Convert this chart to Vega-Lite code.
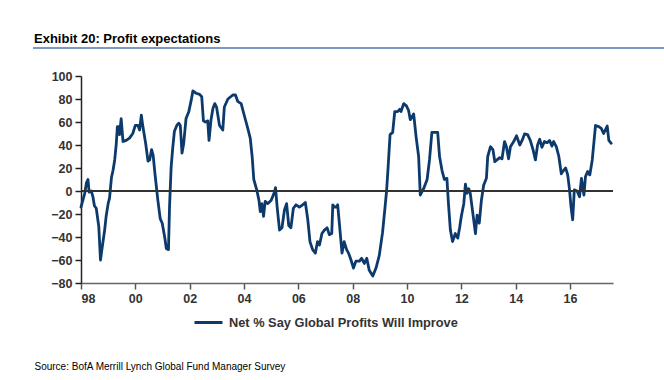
{
  "$schema": "https://vega.github.io/schema/vega-lite/v6.json",
  "width": 532,
  "height": 207,
  "autosize": {"type": "none"},
  "padding": {"left": 81, "top": 76, "right": 51, "bottom": 97},
  "background": "white",
  "config": {"view": {"stroke": null}},
  "title": {
    "text": "Exhibit 20: Profit expectations",
    "anchor": "start",
    "frame": "group",
    "dx": -47,
    "dy": 35,
    "offset": 26,
    "baseline": "alphabetic",
    "font": "Liberation Sans",
    "fontSize": 13,
    "fontWeight": "bold",
    "color": "#000000"
  },
  "data": {"values": [
    {"date": "1998-01-01", "v": -14}, {"date": "1998-02-20", "v": -2}, {"date": "1998-03-15", "v": 7}, {"date": "1998-04-05", "v": 10},
    {"date": "1998-04-20", "v": -1}, {"date": "1998-05-20", "v": 0}, {"date": "1998-06-10", "v": -5}, {"date": "1998-07-01", "v": -13},
    {"date": "1998-07-25", "v": -15}, {"date": "1998-08-28", "v": -31}, {"date": "1998-09-20", "v": -60}, {"date": "1998-10-15", "v": -48},
    {"date": "1998-11-15", "v": -34}, {"date": "1998-12-05", "v": -22}, {"date": "1999-01-01", "v": -11}, {"date": "1999-01-20", "v": -6},
    {"date": "1999-02-15", "v": 12}, {"date": "1999-03-08", "v": 18}, {"date": "1999-03-30", "v": 27}, {"date": "1999-04-20", "v": 41},
    {"date": "1999-05-05", "v": 56}, {"date": "1999-05-22", "v": 56}, {"date": "1999-06-03", "v": 49}, {"date": "1999-06-25", "v": 63},
    {"date": "1999-07-20", "v": 43}, {"date": "1999-09-01", "v": 44}, {"date": "1999-10-15", "v": 46}, {"date": "1999-11-28", "v": 50},
    {"date": "2000-01-01", "v": 57}, {"date": "2000-02-06", "v": 57}, {"date": "2000-02-28", "v": 53}, {"date": "2000-03-22", "v": 66},
    {"date": "2000-04-12", "v": 56}, {"date": "2000-05-20", "v": 41}, {"date": "2000-06-20", "v": 26}, {"date": "2000-07-12", "v": 27},
    {"date": "2000-08-07", "v": 36}, {"date": "2000-08-28", "v": 31}, {"date": "2000-09-23", "v": 14}, {"date": "2000-10-30", "v": -8},
    {"date": "2000-12-01", "v": -24}, {"date": "2000-12-28", "v": -28}, {"date": "2001-01-30", "v": -40}, {"date": "2001-02-21", "v": -50},
    {"date": "2001-03-22", "v": -51}, {"date": "2001-04-05", "v": -14}, {"date": "2001-04-27", "v": 21}, {"date": "2001-05-19", "v": 38},
    {"date": "2001-06-10", "v": 52}, {"date": "2001-07-12", "v": 57}, {"date": "2001-08-07", "v": 59}, {"date": "2001-08-28", "v": 57},
    {"date": "2001-09-20", "v": 33}, {"date": "2001-10-12", "v": 41}, {"date": "2001-11-13", "v": 63}, {"date": "2001-12-20", "v": 69},
    {"date": "2002-01-22", "v": 79}, {"date": "2002-02-13", "v": 87}, {"date": "2002-03-28", "v": 85}, {"date": "2002-05-15", "v": 84},
    {"date": "2002-06-12", "v": 82}, {"date": "2002-07-05", "v": 61}, {"date": "2002-08-01", "v": 60}, {"date": "2002-09-01", "v": 61},
    {"date": "2002-09-18", "v": 44}, {"date": "2002-10-15", "v": 62}, {"date": "2002-11-10", "v": 72}, {"date": "2002-12-05", "v": 76},
    {"date": "2002-12-28", "v": 73}, {"date": "2003-02-06", "v": 57}, {"date": "2003-03-22", "v": 53}, {"date": "2003-04-12", "v": 73},
    {"date": "2003-05-30", "v": 80}, {"date": "2003-08-04", "v": 83.5}, {"date": "2003-09-09", "v": 83.5}, {"date": "2003-10-08", "v": 78},
    {"date": "2003-11-24", "v": 76}, {"date": "2004-01-08", "v": 65}, {"date": "2004-02-21", "v": 54.5}, {"date": "2004-03-25", "v": 46},
    {"date": "2004-04-20", "v": 30}, {"date": "2004-05-12", "v": 10}, {"date": "2004-06-21", "v": 1}, {"date": "2004-07-20", "v": -8},
    {"date": "2004-08-07", "v": -18}, {"date": "2004-08-28", "v": -11}, {"date": "2004-09-20", "v": -22}, {"date": "2004-10-12", "v": -9},
    {"date": "2004-11-17", "v": -11}, {"date": "2005-01-01", "v": -8}, {"date": "2005-02-14", "v": -1}, {"date": "2005-02-28", "v": 3},
    {"date": "2005-03-22", "v": -14}, {"date": "2005-04-23", "v": -34}, {"date": "2005-05-26", "v": -32}, {"date": "2005-06-28", "v": -16.5},
    {"date": "2005-07-27", "v": -11}, {"date": "2005-08-25", "v": -30}, {"date": "2005-09-23", "v": -32}, {"date": "2005-10-26", "v": -15},
    {"date": "2005-12-01", "v": -12}, {"date": "2006-01-15", "v": -14}, {"date": "2006-02-28", "v": -12}, {"date": "2006-04-05", "v": -10},
    {"date": "2006-05-08", "v": -25}, {"date": "2006-06-06", "v": -44}, {"date": "2006-07-12", "v": -51}, {"date": "2006-08-18", "v": -54},
    {"date": "2006-09-16", "v": -44}, {"date": "2006-10-12", "v": -47}, {"date": "2006-11-14", "v": -37}, {"date": "2006-12-17", "v": -34},
    {"date": "2007-01-23", "v": -32}, {"date": "2007-02-21", "v": -38}, {"date": "2007-03-26", "v": -37}, {"date": "2007-04-09", "v": -12},
    {"date": "2007-05-01", "v": -14}, {"date": "2007-05-23", "v": -14}, {"date": "2007-06-14", "v": -12}, {"date": "2007-07-06", "v": -28},
    {"date": "2007-08-11", "v": -54}, {"date": "2007-09-09", "v": -44}, {"date": "2007-10-12", "v": -51}, {"date": "2007-11-07", "v": -54},
    {"date": "2007-12-10", "v": -60}, {"date": "2008-01-12", "v": -67}, {"date": "2008-02-14", "v": -61}, {"date": "2008-04-01", "v": -61},
    {"date": "2008-04-30", "v": -58.5}, {"date": "2008-06-06", "v": -63}, {"date": "2008-07-09", "v": -58.5}, {"date": "2008-08-11", "v": -69},
    {"date": "2008-09-28", "v": -74}, {"date": "2008-11-10", "v": -67}, {"date": "2008-12-24", "v": -56}, {"date": "2009-02-06", "v": -36},
    {"date": "2009-03-10", "v": -15}, {"date": "2009-04-01", "v": 0}, {"date": "2009-04-22", "v": 21}, {"date": "2009-05-18", "v": 49},
    {"date": "2009-06-22", "v": 51}, {"date": "2009-07-20", "v": 69}, {"date": "2009-08-28", "v": 69}, {"date": "2009-09-24", "v": 71},
    {"date": "2009-10-12", "v": 69}, {"date": "2009-11-17", "v": 76}, {"date": "2009-12-24", "v": 74}, {"date": "2010-01-22", "v": 70},
    {"date": "2010-02-14", "v": 62}, {"date": "2010-03-31", "v": 67}, {"date": "2010-05-05", "v": 46}, {"date": "2010-06-06", "v": 30},
    {"date": "2010-06-28", "v": -3.5}, {"date": "2010-08-12", "v": 2}, {"date": "2010-09-28", "v": 10}, {"date": "2010-10-30", "v": 27},
    {"date": "2010-12-01", "v": 51}, {"date": "2011-01-15", "v": 51}, {"date": "2011-02-17", "v": 51}, {"date": "2011-03-14", "v": 30},
    {"date": "2011-04-16", "v": 18}, {"date": "2011-05-18", "v": 10}, {"date": "2011-06-21", "v": 11}, {"date": "2011-07-12", "v": -11},
    {"date": "2011-08-07", "v": -34}, {"date": "2011-09-05", "v": -44}, {"date": "2011-10-12", "v": -37}, {"date": "2011-11-14", "v": -41},
    {"date": "2011-12-09", "v": -32}, {"date": "2012-01-01", "v": -22}, {"date": "2012-02-03", "v": -11}, {"date": "2012-02-25", "v": 6},
    {"date": "2012-03-18", "v": -2}, {"date": "2012-04-09", "v": 2}, {"date": "2012-04-30", "v": -2}, {"date": "2012-06-03", "v": -19},
    {"date": "2012-07-09", "v": -37}, {"date": "2012-07-31", "v": -21}, {"date": "2012-08-29", "v": -28}, {"date": "2012-09-27", "v": -8},
    {"date": "2012-10-27", "v": 5}, {"date": "2012-12-03", "v": 11}, {"date": "2012-12-21", "v": 30}, {"date": "2013-01-27", "v": 38.5},
    {"date": "2013-03-01", "v": 36}, {"date": "2013-03-26", "v": 25.5}, {"date": "2013-04-24", "v": 27}, {"date": "2013-05-31", "v": 29},
    {"date": "2013-07-01", "v": 28}, {"date": "2013-08-04", "v": 43}, {"date": "2013-08-29", "v": 38.5}, {"date": "2013-09-27", "v": 28},
    {"date": "2013-10-22", "v": 38.5}, {"date": "2013-12-05", "v": 43}, {"date": "2014-01-12", "v": 48}, {"date": "2014-02-25", "v": 40},
    {"date": "2014-03-28", "v": 44}, {"date": "2014-04-30", "v": 49.6}, {"date": "2014-06-10", "v": 49}, {"date": "2014-07-16", "v": 44},
    {"date": "2014-08-22", "v": 36}, {"date": "2014-09-23", "v": 27}, {"date": "2014-10-22", "v": 40}, {"date": "2014-11-20", "v": 45},
    {"date": "2014-12-20", "v": 38}, {"date": "2015-01-22", "v": 43}, {"date": "2015-02-28", "v": 42}, {"date": "2015-04-01", "v": 44},
    {"date": "2015-05-04", "v": 39}, {"date": "2015-05-26", "v": 43}, {"date": "2015-07-01", "v": 38.5}, {"date": "2015-08-04", "v": 30},
    {"date": "2015-09-06", "v": 15}, {"date": "2015-10-08", "v": 18}, {"date": "2015-11-03", "v": 20}, {"date": "2015-12-01", "v": 14},
    {"date": "2015-12-24", "v": 2}, {"date": "2016-01-15", "v": -14}, {"date": "2016-02-06", "v": -25}, {"date": "2016-02-28", "v": 1},
    {"date": "2016-04-05", "v": 0}, {"date": "2016-05-08", "v": -5}, {"date": "2016-06-03", "v": 11}, {"date": "2016-07-06", "v": -3.5},
    {"date": "2016-07-27", "v": 12.5}, {"date": "2016-08-25", "v": 17}, {"date": "2016-09-23", "v": 14}, {"date": "2016-10-26", "v": 27},
    {"date": "2016-12-09", "v": 57}, {"date": "2017-01-22", "v": 56}, {"date": "2017-02-24", "v": 54.5}, {"date": "2017-03-28", "v": 50},
    {"date": "2017-05-15", "v": 56.5}, {"date": "2017-06-06", "v": 44}, {"date": "2017-07-08", "v": 41.5}
  ]},
  "layer": [
    {
      "mark": {"type": "line", "strokeWidth": 2.8, "strokeJoin": "round", "strokeCap": "round"},
      "encoding": {
        "x": {
          "field": "date",
          "type": "temporal",
          "scale": {"domain": [{"year": 1998, "month": 1, "date": 1}, {"year": 2017, "month": 8, "date": 1}]},
          "axis": {
            "title": "Source: BofA Merrill Lynch Global Fund Manager Survey",
            "titleFont": "Liberation Sans",
            "titleFontSize": 10,
            "titleFontWeight": "normal",
            "titleColor": "#000000",
            "titleAlign": "left",
            "titleAnchor": "start",
            "titleX": -47,
            "titleY": 83,
            "titleBaseline": "middle",
            "format": "%y",
            "tickCount": {"interval": "year", "step": 2},
            "labelFont": "Liberation Sans",
            "labelFontSize": 12.5,
            "labelFontWeight": "bold",
            "labelColor": "#333333",
            "labelPadding": 3,
            "tickSize": 6,
            "tickColor": "#555555",
            "tickWidth": 1.5,
            "domainColor": "#666666",
            "domainWidth": 1.5,
            "grid": false
          }
        },
        "y": {
          "field": "v",
          "type": "quantitative",
          "scale": {"domain": [-80, 100], "nice": false},
          "axis": {
            "title": null,
            "values": [-80, -60, -40, -20, 0, 20, 40, 60, 80, 100],
            "tickCount": 10,
            "labelOverlap": false,
            "labelFont": "Liberation Sans",
            "labelFontSize": 12.5,
            "labelFontWeight": "bold",
            "labelColor": "#333333",
            "labelPadding": 3,
            "tickSize": 6,
            "tickColor": "#222222",
            "tickWidth": 1.5,
            "domainColor": "#222222",
            "domainWidth": 1.5,
            "grid": false
          }
        },
        "color": {
          "datum": "Net % Say Global Profits Will Improve",
          "type": "nominal",
          "scale": {"range": ["#0d3a6c"]},
          "legend": {
            "title": null,
            "orient": "none",
            "legendX": 112,
            "legendY": 231,
            "padding": 0,
            "symbolType": "stroke",
            "symbolSize": 784,
            "symbolStrokeWidth": 3,
            "labelFont": "Liberation Sans",
            "labelFontSize": 12.8,
            "labelFontWeight": "bold",
            "labelColor": "#333333",
            "labelOffset": 5,
            "labelLimit": 400
          }
        }
      }
    },
    {
      "mark": {"type": "rule", "color": "#333333", "strokeWidth": 1.2},
      "encoding": {"y": {"datum": 0, "type": "quantitative"}}
    },
    {
      "mark": {"type": "rule", "color": "#7d98c4", "strokeWidth": 2, "clip": false},
      "encoding": {
        "x": {"datum": {"year": 1996, "month": 4, "date": 7}, "type": "temporal"},
        "x2": {"datum": {"year": 2019, "month": 6, "date": 20}},
        "y": {"datum": 124.3, "type": "quantitative"}
      }
    }
  ]
}
